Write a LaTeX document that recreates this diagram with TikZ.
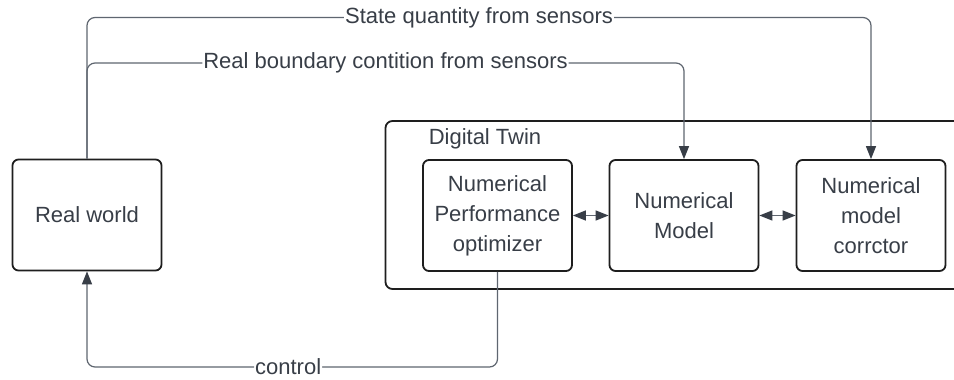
\documentclass[tikz,border=0pt]{standalone}
\usepackage{fontspec}
\setmainfont{Liberation Sans}
\usetikzlibrary{arrows.meta}
\definecolor{txt}{HTML}{383E47}
\definecolor{edgec}{HTML}{1E1E1E}
\definecolor{wirec}{HTML}{5F6670}
\begin{document}
\begin{tikzpicture}[x=1pt,y=-1pt,
  box/.style={draw=edgec, line width=1.8pt, rounded corners=6pt, minimum width=149pt, minimum height=111pt, align=center, text=txt, font=\fontsize{22}{30}\selectfont, inner sep=0pt},
  wire/.style={draw=wirec, line width=1.2pt, rounded corners=8pt},
  tip/.style={-{Triangle[length=13pt,width=10pt,color=txt]}},
  dtip/.style={{Triangle[length=13pt,width=10pt,color=txt]}-{Triangle[length=13pt,width=10pt,color=txt]}},
  lbl/.style={fill=white, text=txt, font=\fontsize{22}{30}\selectfont, inner xsep=1pt, inner ysep=0pt},
  title/.style={text=txt, font=\fontsize{22}{30}\selectfont, inner sep=0pt}
]
\clip (0,0) rectangle (954,380);
\fill[white] (0,0) rectangle (954,380);
% container
\draw[draw=edgec, line width=1.8pt, rounded corners=7pt] (385.5,121) rectangle (980,289);
\node[title] (dt) at (485,139) {Digital Twin};
% nodes
\node[box] (rw) at (87,215) {Real world};
\node[box] (opt) at (497.5,215.5) {Numerical\\Performance\\optimizer};
\node[box] (mod) at (684,215.5) {Numerical\\Model};
\node[box] (cor) at (871,215.5) {Numerical\\model\\corrctor};
\coordinate (ytop) at (0,17.5);
\coordinate (ymid) at (0,63);
\coordinate (ybot) at (0,367);
% connectors
\draw[wire, tip] (rw.north) -- (rw.north |- ytop) -- node[lbl]{State quantity from sensors} (cor.north |- ytop) -- (cor.north);
\draw[wire, tip] (rw.north) -- (rw.north |- ymid) -- node[lbl]{Real boundary contition from sensors} (mod.north |- ymid) -- (mod.north);
\draw[wire, tip] (opt.south) -- (opt.south |- ybot) -- node[lbl, pos=0.51]{control} (rw.south |- ybot) -- (rw.south);
\draw[wire, dtip] (opt.east) -- (mod.west);
\draw[wire, dtip] (mod.east) -- (cor.west);
\end{tikzpicture}
\end{document}
